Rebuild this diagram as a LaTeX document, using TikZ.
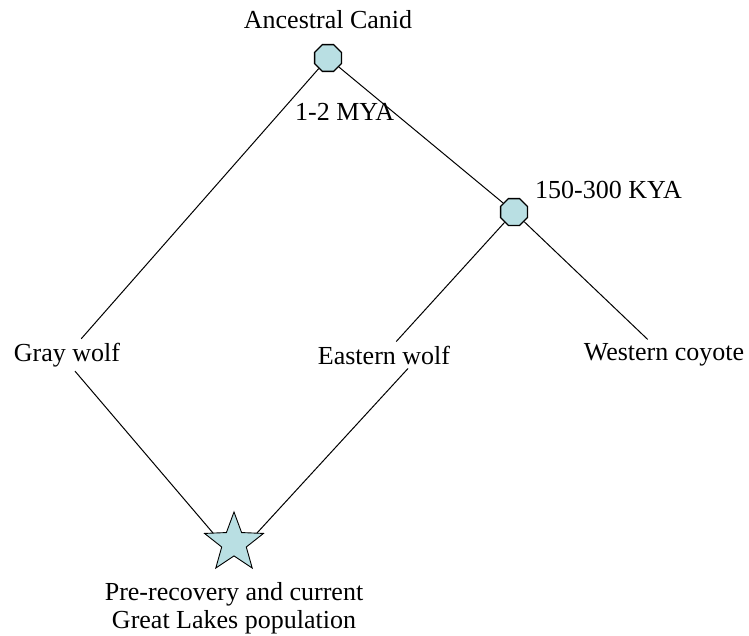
\documentclass[tikz,border=0pt]{standalone}
\usepackage{fontspec}
\setmainfont{Liberation Serif}
\usetikzlibrary{shapes.geometric, calc}
\definecolor{splitcyan}{HTML}{B9DFE3}

\begin{document}
\begin{tikzpicture}[
    x=1pt, y=-1pt,
    font=\fontsize{26}{28}\selectfont,
    every node/.style={align=center},
    taxon/.style={inner sep=4pt},
    split/.style={regular polygon, regular polygon sides=8, draw=black, fill=splitcyan, line width=1.3pt, minimum size=29pt, inner sep=0pt},
    hybrid/.style={star, star points=5, star point ratio=2.4, draw=black, fill=splitcyan, line width=0.9pt, minimum size=62pt, inner sep=0pt},
    branch/.style={line width=1pt},
]
\useasboundingbox (0,0) rectangle (749,635);

% ================= ROOT =================
\node[taxon] (anc) at (328,20) {Ancestral Canid};
\node[split] (ca) at (328,58) {};
\node[anchor=west, inner sep=2pt] (mya) at (293,112) {1-2 MYA};

% ================= SECOND SPLIT =================
\node[split] (cb) at (514,212) {};
\node[anchor=west, inner sep=2pt] (kya) at (533,190) {150-300 KYA};

% ================= TIPS =================
\node[taxon] (gw) at (67,355) {Gray wolf};
\node[taxon] (ew) at (384,355) {Eastern wolf};
\node[taxon] (wc) at (664,355) {Western coyote};

% ================= ADMIXED POPULATION =================
\node[hybrid] (gl) at (234,543) {};
\node (pop) at (234,608) {Pre-recovery and current\\Great Lakes population};

\coordinate (gwb) at ($(gw.south)+(8,0)$);
\coordinate (ewb) at ($(ew.south)+(24,0)$);
\coordinate (glL) at ($(gl.center)+(-21,-10)$);
\coordinate (glR) at ($(gl.center)+(23,-10)$);

% ================= BRANCHES =================
\draw[branch] (ca) -- (gw);
\draw[branch] (ca) -- (cb);
\draw[branch] (cb) -- (ew);
\draw[branch] (cb) -- (wc);
\draw[branch] (gwb) -- (glL);
\draw[branch] (ewb) -- (glR);

\end{tikzpicture}
\end{document}
